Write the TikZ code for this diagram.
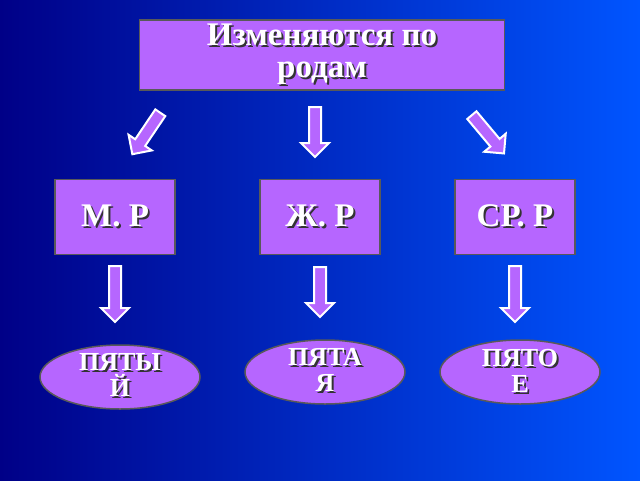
\documentclass[tikz,border=0pt]{standalone}
\usepackage{fontspec}
\setmainfont{Liberation Serif}
\usetikzlibrary{shapes.geometric,shapes.arrows}
\definecolor{lilac}{RGB}{182,102,255}
\definecolor{deepblue}{RGB}{0,0,135}
\definecolor{brightblue}{RGB}{0,85,255}
\newcommand\shd[1]{\rlap{\hspace{2pt}\raisebox{-2pt}{\color{black!80}#1}}#1}

\begin{document}
\begin{tikzpicture}[x=1pt,y=-1pt,font=\bfseries,text=white]

  \tikzset{box/.style={rectangle,draw=gray!70!black,line width=1.5pt,fill=lilac,
                       inner sep=0pt,align=center},
           oval/.style={ellipse,draw=gray!70!black,line width=1.5pt,fill=lilac,
                        minimum width=160pt,minimum height=64pt},
           fat/.style={single arrow,draw=white,line width=2pt,fill=lilac,
                       minimum height=50pt,single arrow head extend=8pt,
                       inner sep=5pt}}

  \shade[shading angle=125,left color=deepblue,right color=brightblue] (0,0) rectangle (640,480);
  \useasboundingbox (0,0) rectangle (640,480);

  \node[box,minimum width=365pt,minimum height=70pt,font=\fontsize{33}{32}\selectfont\bfseries]
       (top) at (322,55) {\shd{Изменяются по}\\\shd{родам}};

  \node[box,minimum width=120pt,minimum height=75pt,font=\fontsize{33}{30}\selectfont\bfseries]
       (m) at (115,217) {\shd{М. Р}};
  \node[box,minimum width=120pt,minimum height=75pt,font=\fontsize{33}{30}\selectfont\bfseries]
       (zh) at (320,217) {\shd{Ж. Р}};
  \node[box,minimum width=120pt,minimum height=75pt,font=\fontsize{33}{30}\selectfont\bfseries]
       (sr) at (515,217) {\shd{СР. Р}};

  \node[fat,rotate=-124] (a1) at (148,131) {};
  \node[fat,rotate=-90]  (a2) at (315,129) {};
  \node[fat,rotate=-50]  (a3) at (486,132) {};
  \node[fat,rotate=-90,minimum height=56pt] (b1) at (115,291) {};
  \node[fat,rotate=-90]  (b2) at (320,289) {};
  \node[fat,rotate=-90,minimum height=56pt] (b3) at (515,291) {};

  \node[oval] (pytyj) at (120,377) {};
  \node[oval] (pyataya) at (325,372) {};
  \node[oval] (pyatoe) at (520,372) {};
  \node[align=center,font=\fontsize{26}{26}\selectfont\bfseries,anchor=north]
       (t1) at ([yshift=-6pt]pytyj.north) {\shd{ПЯТЫ}\\\shd{Й}};
  \node[align=center,font=\fontsize{26}{26}\selectfont\bfseries,anchor=north]
       (t2) at ([yshift=-6pt]pyataya.north) {\shd{ПЯТА}\\\shd{Я}};
  \node[align=center,font=\fontsize{26}{26}\selectfont\bfseries,anchor=north]
       (t3) at ([yshift=-6pt]pyatoe.north) {\shd{ПЯТО}\\\shd{Е}};
\end{tikzpicture}
\end{document}
